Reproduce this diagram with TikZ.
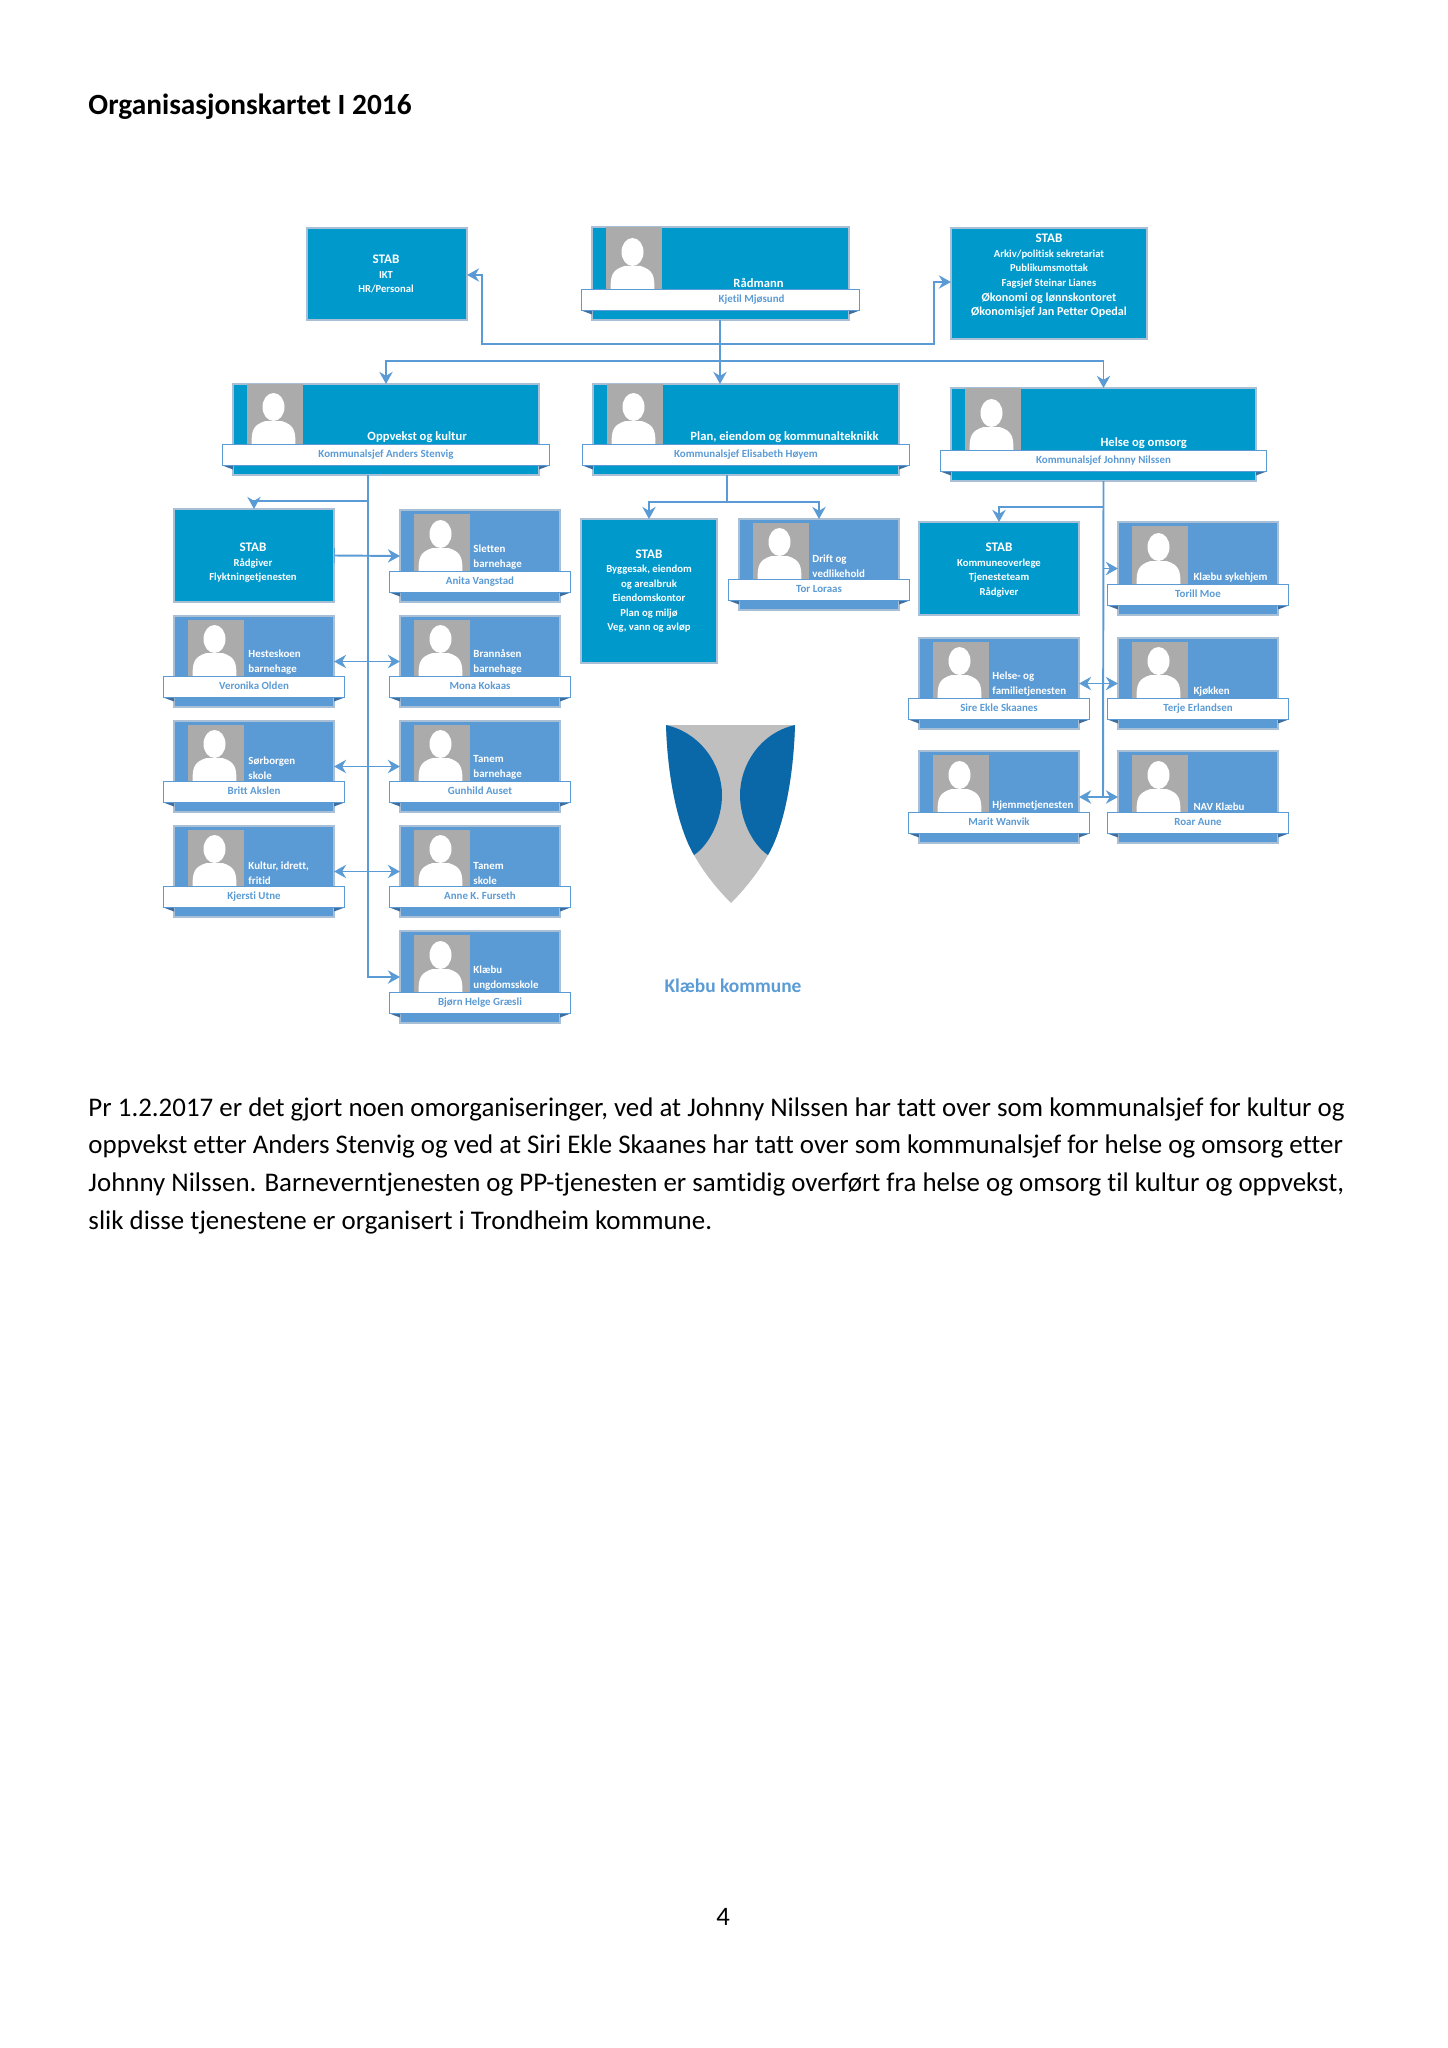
\documentclass[tikz,border=0pt]{standalone}
\usepackage{fontspec}
\setmainfont[Ligatures=NoCommon]{Carlito}
\usetikzlibrary{arrows.meta,fit}
\definecolor{linkblue}{HTML}{5B9BD5}
\definecolor{deepblue}{HTML}{0099CC}
\definecolor{edgegrey}{HTML}{A9BFD6}
\definecolor{photogrey}{HTML}{ABABAB}
\definecolor{foldblue}{HTML}{3D6E9E}
\definecolor{shieldgrey}{HTML}{BFBFBF}
\definecolor{shieldblue}{HTML}{0B68A8}
\tikzset{
	cardbox/.style={draw=edgegrey,line width=0.5pt,inner sep=0pt,outer sep=0pt},
	photobox/.style={fill=photogrey,inner sep=0pt,outer sep=0pt},
	ribbonbox/.style={draw=linkblue,fill=white,line width=0.6pt,inner sep=0pt,outer sep=0pt},
	headtext/.style={text=white,anchor=south west,align=left,inner sep=0pt,font=\fontsize{4.5}{6.2}\selectfont\bfseries},
	nametext/.style={text=linkblue,inner sep=0pt,text height=3pt,text depth=1pt,font=\fontsize{4.5}{6}\selectfont\bfseries},
	stabtext/.style={text=white,align=center,inner sep=0pt,font=\fontsize{4.4}{6}\selectfont\bfseries},
	link/.style={draw=linkblue,line width=0.8pt},
	oneway/.style={link,-{Stealth[length=5pt,width=5.5pt]}},
	twoway/.style={link,{Stealth[length=5pt,width=5.5pt]}-{Stealth[length=5pt,width=5.5pt]}}
}
\newcommand{\photoinset}{4}
% name, left, top, right, bottom, fill, heading x, heading, person
\newcommand{\personcard}[9]{
	\node[cardbox,fill=#6,fit={(#2,#3)(#4,#5)}] (#1) {};
	\node[photobox,fit={(#2+13.5,#3+\photoinset)(#2+70,#5-30)}] (#1-photo) {};
	\begin{scope}[shift={(#1-photo.south west)}]
		\path[fill=white] (27,-38) ellipse [x radius=11,y radius=14];
		\path[fill=white] (5,0) .. controls (5,-14) and (6,-20) .. (19,-24) -- (35,-24)
			.. controls (48,-20) and (49,-14) .. (49,0) -- cycle;
	\end{scope}
	\node[headtext] (#1-head) at (#7,#5-32) {#8};
	\path[fill=foldblue] (#2-10.5,#5-9.5) -- (#2,#5-5.5) -- (#2,#5-9.5) -- cycle;
	\path[fill=foldblue] (#4+10.5,#5-9.5) -- (#4,#5-5.5) -- (#4,#5-9.5) -- cycle;
	\node[ribbonbox,fit={(#2-10.5,#5-30.5)(#4+10.5,#5-9.5)}] (#1-ribbon) {};
	\node[nametext] (#1-name) at (#1-ribbon.center) {#9};
}
\begin{document}
\begin{tikzpicture}[x=0.0145cm, y=-0.0145cm]
	\useasboundingbox (0,0) rectangle (1447,2048);
	\node[anchor=west,inner sep=0pt,font=\fontsize{12.1}{15}\selectfont\bfseries] (title) at (88,107) {Organisasjonskartet I 2016};

	% stab boxes
	\node[cardbox,fill=deepblue,fit={(307,228)(467,320)}] (ikt) {};
	\node[stabtext] (ikt-text) at (386,274) {{\fontsize{5.4}{6}\selectfont STAB}\\IKT\\HR/Personal};
	\node[cardbox,fill=deepblue,fit={(951,228)(1147,339)}] (arkiv) {};
	\node[stabtext] (arkiv-text) at (1049,276) {{\fontsize{5.4}{6}\selectfont STAB}\\Arkiv/politisk sekretariat\\Publikumsmottak\\Fagsjef Steinar Lianes\\{\fontsize{5}{6}\selectfont Økonomi og lønnskontoret}\\{\fontsize{5}{6}\selectfont Økonomisjef Jan Petter Opedal}};
	\node[cardbox,fill=deepblue,fit={(174,509)(334,602)}] (raadgiver) {};
	\node[stabtext] (raadgiver-text) at (253,563) {{\fontsize{5.4}{6}\selectfont STAB}\\Rådgiver\\Flyktningetjenesten};
	\node[cardbox,fill=deepblue,fit={(581,519)(717,663)}] (bygg) {};
	\node[stabtext] (bygg-text) at (649,591) {{\fontsize{5.4}{6}\selectfont STAB}\\Byggesak, eiendom\\og arealbruk\\Eiendomskontor\\Plan og miljø\\Veg, vann og avløp};
	\node[cardbox,fill=deepblue,fit={(919,522)(1079,615)}] (lege) {};
	\node[stabtext] (lege-text) at (999,570) {{\fontsize{5.4}{6}\selectfont STAB}\\Kommuneoverlege\\Tjenesteteam\\Rådgiver};

	% the chiefs
	\renewcommand{\photoinset}{0}
	\tikzset{headtext/.append style={font=\fontsize{5.2}{6.2}\selectfont\bfseries}}
	\personcard{raadmann}{592}{227}{849}{320}{deepblue}{733}{Rådmann}{\hspace*{9mm}Kjetil Mjøsund}
	\personcard{oppvekst}{233}{384}{539}{475}{deepblue}{367}{Oppvekst og kultur}{Kommunalsjef Anders Stenvig}
	\personcard{plan}{593}{384}{899}{475}{deepblue}{690}{Plan, eiendom og kommunalteknikk}{Kommunalsjef Elisabeth Høyem}
	\personcard{helse}{951}{388}{1256}{481}{deepblue}{1100}{Helse og omsorg}{Kommunalsjef Johnny Nilssen}

	% the units
	\renewcommand{\photoinset}{4}
	\tikzset{headtext/.append style={font=\fontsize{4.5}{6.2}\selectfont\bfseries}}
	\personcard{hesteskoen}{174}{616}{334}{707}{linkblue}{248}{Hesteskoen\\barnehage}{Veronika Olden}
	\personcard{sorborgen}{174}{721}{334}{812}{linkblue}{248}{Sørborgen\\skole}{Britt Akslen}
	\personcard{kulturidrett}{174}{826}{334}{917}{linkblue}{248}{Kultur, idrett,\\fritid}{Kjersti Utne}
	\personcard{sletten}{400}{510}{560}{602}{linkblue}{473}{Sletten\\barnehage}{Anita Vangstad}
	\personcard{brannaasen}{400}{616}{560}{707}{linkblue}{473}{Brannåsen\\barnehage}{Mona Kokaas}
	\personcard{tanemhage}{400}{721}{560}{812}{linkblue}{473}{Tanem\\barnehage}{Gunhild Auset}
	\personcard{tanemskole}{400}{826}{560}{917}{linkblue}{473}{Tanem\\skole}{Anne K. Furseth}
	\personcard{ungdom}{400}{931}{560}{1023}{linkblue}{473}{Klæbu\\ungdomsskole}{Bjørn Helge Græsli}
	\personcard{drift}{739}{519}{899}{610}{linkblue}{812}{Drift og\\vedlikehold}{Tor Loraas}
	\personcard{familie}{919}{638}{1079}{729}{linkblue}{992}{Helse- og\\familietjenesten}{Sire Ekle Skaanes}
	\personcard{hjemme}{919}{751}{1079}{843}{linkblue}{992}{Hjemmetjenesten}{Marit Wanvik}
	\personcard{sykehjem}{1118}{522}{1278}{615}{linkblue}{1193}{Klæbu sykehjem}{Torill Moe}
	\personcard{kjokken}{1118}{638}{1278}{729}{linkblue}{1193}{Kjøkken}{Terje Erlandsen}
	\personcard{nav}{1118}{751}{1278}{843}{linkblue}{1193}{NAV Klæbu}{Roar Aune}

	% lines from the top
	\coordinate (stabjoin) at (720,344);
	\coordinate (mainjoin) at (720,361);
	\coordinate (iktbend) at (482,275);
	\coordinate (arkivbend) at (934,282);
	\draw[link] (raadmann.south -| stabjoin) -- (mainjoin);
	\draw[oneway] (stabjoin) -| (iktbend) -- (iktbend -| ikt.east);
	\draw[oneway] (stabjoin) -| (arkivbend) -- (arkivbend -| arkiv.west);
	\draw[oneway] (mainjoin) -| (oppvekst.north);
	\draw[oneway] (mainjoin) -- (mainjoin |- plan.north);
	\draw[oneway] (mainjoin) -| (helse.north);

	% oppvekst og kultur
	\coordinate (oppvekstfoot) at (368,977);
	\coordinate (raadgiverjoin) at (368,501);
	\draw[oneway] (oppvekst.south -| oppvekstfoot) -- (oppvekstfoot) -- (ungdom.west);
	\draw[oneway] (raadgiverjoin) -| (raadgiver.north);
	\draw[link,{Bar[width=6pt,line width=0.3pt]}-{Stealth[length=5pt,width=5.5pt]}] (raadgiver.east) -- (sletten.west);
	\draw[twoway] (hesteskoen.east) -- (brannaasen.west);
	\draw[twoway] (sorborgen.east) -- (tanemhage.west);
	\draw[twoway] (kulturidrett.east) -- (tanemskole.west);

	% plan, eiendom
	\coordinate (planjoin) at (727,502);
	\draw[link] (plan.south -| planjoin) -- (planjoin);
	\draw[oneway] (planjoin) -| (bygg.north);
	\draw[oneway] (planjoin) -| (drift.north);

	% helse og omsorg
	\coordinate (helsefoot) at (1103,797);
	\coordinate (legejoin) at (1103,507);
	\draw[link] (helse.south) -- (helsefoot);
	\draw[oneway] (legejoin) -| (lege.north);
	\draw[oneway] (helsefoot |- sykehjem.west) -- (sykehjem.west);
	\draw[twoway] (familie.east) -- (kjokken.west);
	\draw[twoway] (hjemme.east) -- (nav.west);

	% logo
	\path[fill=shieldgrey] (666,725) -- (795,725) .. controls (793,790) and (780,835) .. (768,855)
		.. controls (758,873) and (744,890) .. (731,903) .. controls (718,890) and (704,873) .. (694,855)
		.. controls (682,835) and (668,790) .. (666,725) -- cycle;
	\path[fill=shieldblue] (666,725) .. controls (701,733) and (722,765) .. (722,795)
		.. controls (722,820) and (709,845) .. (694,855) .. controls (682,835) and (668,790) .. (666,725) -- cycle;
	\path[fill=shieldblue] (795,725) .. controls (760,733) and (740,765) .. (740,795)
		.. controls (740,820) and (753,845) .. (768,855) .. controls (780,835) and (793,790) .. (795,725) -- cycle;
	\node[text=linkblue,inner sep=0pt,font=\fontsize{8}{10}\selectfont\bfseries] (logotext) at (733,986) {Klæbu kommune};

	% text under the chart
	\node[anchor=north west,align=left,inner sep=0pt,font=\fontsize{11.1}{15.55}\selectfont] (bodytext) at (88,1097) {Pr 1.2.2017 er det gjort noen omorganiseringer, ved at Johnny Nilssen har tatt over som kommunalsjef for kultur og\\oppvekst etter Anders Stenvig og ved at Siri Ekle Skaanes har tatt over som kommunalsjef for helse og omsorg etter\\Johnny Nilssen. Barneverntjenesten og PP-tjenesten er samtidig overført fra helse og omsorg til kultur og oppvekst,\\slik disse tjenestene er organisert i Trondheim kommune.};
	\node[inner sep=0pt,font=\fontsize{11}{13}\selectfont] (pagenumber) at (723,1917) {4};
\end{tikzpicture}
\end{document}
